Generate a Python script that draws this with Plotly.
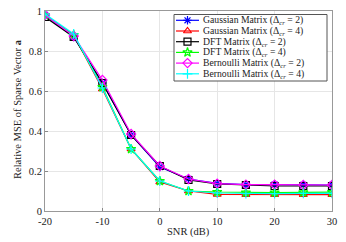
import plotly.graph_objects as go

snr = [-20, -15, -10, -5, 0, 5, 10, 15, 20, 25, 30]
gauss2 = [0.98, 0.87, 0.64, 0.38, 0.22, 0.16, 0.138, 0.132, 0.132, 0.13, 0.13]
gauss4 = [0.98, 0.88, 0.61, 0.31, 0.145, 0.10, 0.083, 0.082, 0.082, 0.082, 0.082]
dft2 = [0.97, 0.87, 0.64, 0.38, 0.225, 0.155, 0.135, 0.13, 0.125, 0.125, 0.125]
dft4 = [0.98, 0.88, 0.62, 0.31, 0.15, 0.10, 0.095, 0.092, 0.092, 0.093, 0.094]
bern2 = [0.98, 0.875, 0.655, 0.385, 0.225, 0.16, 0.137, 0.132, 0.132, 0.13, 0.13]
bern4 = [0.985, 0.885, 0.615, 0.31, 0.15, 0.10, 0.09, 0.087, 0.087, 0.088, 0.088]

x_ticks = [-20, -10, 0, 10, 20, 30]
x_ticktext = ["-20", "-10", "0", "10", "20", "30"]
y_ticks = [0, 0.2, 0.4, 0.6, 0.8, 1]
y_ticktext = ["0", "0.2", "0.4", "0.6", "0.8", "1"]
x_title = "SNR (dB)"
y_title = "Relative MSE of Sparse Vector <b>a</b>"

names = [
    "Gaussian Matrix (Δ<sub><i>cr</i></sub> = 2)",
    "Gaussian Matrix (Δ<sub><i>cr</i></sub> = 4)",
    "DFT Matrix (Δ<sub><i>cr</i></sub> = 2)",
    "DFT Matrix (Δ<sub><i>cr</i></sub> = 4)",
    "Bernoulli Matrix (Δ<sub><i>cr</i></sub> = 2)",
    "Bernoulli Matrix (Δ<sub><i>cr</i></sub> = 4)",
]
values = [gauss2, gauss4, dft2, dft4, bern2, bern4]
colors = ["blue", "red", "black", "#00ff00", "magenta", "cyan"]
symbols = ["asterisk-open", "triangle-up-open", "square-open", "star-open",
           "diamond-open", "cross-thin-open"]

W, H = 346, 242
ML, MR, MT, MB = 45, 14, 11, 31
FONT = "Liberation Serif"

fig = go.Figure()
for name, ys, color, sym in zip(names, values, colors, symbols):
    fig.add_trace(go.Scatter(
        x=snr, y=ys, name=name, mode="lines+markers", showlegend=False,
        line=dict(color=color, width=1.2),
        marker=dict(symbol=sym, size=7, color=color, line=dict(color=color, width=1.2)),
    ))

# manual legend drawn on an overlay axis measured in pixels
px_left, px_right = ML, W - MR
px_top, px_bot = MT, H - MB
box = dict(x0=174, x1=327, y0=14.5, y1=81)
row_y0, row_dy = 20.3, 10.7
fig.add_trace(go.Scatter(
    x=[box["x0"], box["x1"], box["x1"], box["x0"], box["x0"]],
    y=[box["y0"], box["y0"], box["y1"], box["y1"], box["y0"]],
    xaxis="x2", yaxis="y2", mode="lines", fill="toself", fillcolor="white",
    line=dict(color="#555555", width=1), showlegend=False, hoverinfo="skip",
))
for i, (name, color, sym) in enumerate(zip(names, colors, symbols)):
    ry = row_y0 + i * row_dy
    fig.add_trace(go.Scatter(
        x=[176, 199], y=[ry, ry], xaxis="x2", yaxis="y2", mode="lines",
        line=dict(color=color, width=1.2), showlegend=False, hoverinfo="skip",
    ))
    fig.add_trace(go.Scatter(
        x=[187.5], y=[ry], xaxis="x2", yaxis="y2", mode="markers",
        marker=dict(symbol=sym, size=7, color=color, line=dict(color=color, width=1.2)),
        showlegend=False, hoverinfo="skip",
    ))
    fig.add_annotation(
        x=200.5, y=ry, xref="x2", yref="y2", text=name, showarrow=False,
        xanchor="left", yanchor="middle",
        font=dict(family=FONT, size=9.7, color="#222"),
    )


def px_to_paper(px, py):
    return (px - px_left) / (px_right - px_left), (px_bot - py) / (px_bot - px_top)


# axis titles placed in paper coordinates (from pixel positions)
xt, yt = px_to_paper(188, 232)
fig.add_annotation(x=xt, y=yt, xref="paper", yref="paper", text=x_title, showarrow=False,
                   xanchor="center", yanchor="middle",
                   font=dict(family=FONT, size=10.5, color="#222"))
xt, yt = px_to_paper(17, 109)
fig.add_annotation(x=xt, y=yt, xref="paper", yref="paper", text=y_title, showarrow=False,
                   xanchor="center", yanchor="middle", textangle=-90,
                   font=dict(family=FONT, size=10.5, color="#222"))

axis_common = dict(
    showgrid=True, gridcolor="#e6e6e6", gridwidth=1,
    showline=True, linecolor="#999999", linewidth=1, mirror=True,
    ticks="inside", ticklen=3, tickcolor="#888888", automargin=False,
    zeroline=False, tickfont=dict(family=FONT, size=10.5, color="#222"),
)

fig.update_layout(
    width=W, height=H,
    margin=dict(l=ML, r=MR, t=MT, b=MB, autoexpand=False),
    paper_bgcolor="white", plot_bgcolor="white",
    font=dict(family=FONT, size=10, color="#222"),
    xaxis=dict(range=[-20, 30], tickvals=x_ticks, ticktext=x_ticktext, **axis_common),
    yaxis=dict(range=[0, 1], tickvals=y_ticks, ticktext=y_ticktext, **axis_common),
    xaxis2=dict(overlaying="x", range=[px_left, px_right], visible=False, fixedrange=True),
    yaxis2=dict(overlaying="y", range=[px_bot, px_top], visible=False, fixedrange=True),
    showlegend=False,
)

fig.write_html("out.html", config={"displayModeBar": False},
               post_script="document.body.style.margin='0';")
